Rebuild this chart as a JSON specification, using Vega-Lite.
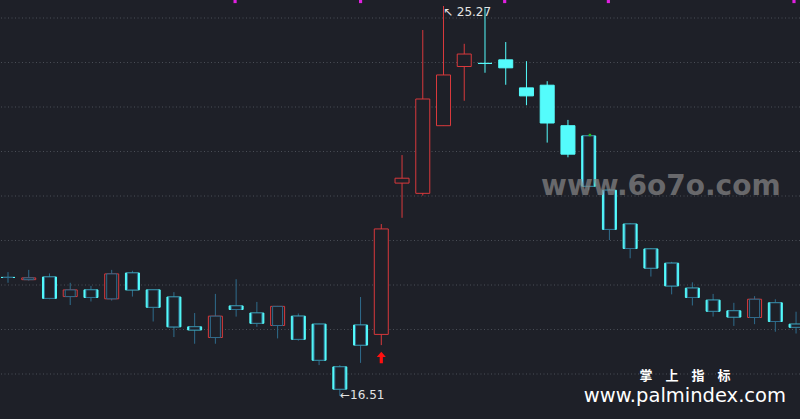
{
  "$schema": "https://vega.github.io/schema/vega-lite/v6.json",
  "width": 800,
  "height": 419,
  "autosize": {"type": "none"},
  "padding": 0,
  "background": "#1e2028",
  "config": {"view": {"stroke": null}},
  "datasets": {
    "k": [
      {"i": 0, "o": 19.17, "h": 19.29, "l": 19.05, "c": 19.17},
      {"i": 1, "o": 19.12, "h": 19.34, "l": 19.10, "c": 19.16},
      {"i": 2, "o": 19.18, "h": 19.26, "l": 18.68, "c": 18.70},
      {"i": 3, "o": 18.74, "h": 19.05, "l": 18.55, "c": 18.89},
      {"i": 4, "o": 18.89, "h": 18.98, "l": 18.63, "c": 18.72},
      {"i": 5, "o": 18.69, "h": 19.34, "l": 18.65, "c": 19.25},
      {"i": 6, "o": 19.27, "h": 19.32, "l": 18.74, "c": 18.89},
      {"i": 7, "o": 18.89, "h": 18.89, "l": 18.18, "c": 18.50},
      {"i": 8, "o": 18.73, "h": 18.84, "l": 17.83, "c": 18.06},
      {"i": 9, "o": 18.06, "h": 18.37, "l": 17.68, "c": 17.99},
      {"i": 10, "o": 17.82, "h": 18.80, "l": 17.68, "c": 18.30},
      {"i": 11, "o": 18.53, "h": 19.13, "l": 18.29, "c": 18.45},
      {"i": 12, "o": 18.37, "h": 18.62, "l": 18.06, "c": 18.14},
      {"i": 13, "o": 18.09, "h": 18.53, "l": 17.80, "c": 18.52},
      {"i": 14, "o": 18.30, "h": 18.36, "l": 17.75, "c": 17.78},
      {"i": 15, "o": 18.12, "h": 18.13, "l": 17.20, "c": 17.31},
      {"i": 16, "o": 17.16, "h": 17.20, "l": 16.51, "c": 16.66},
      {"i": 17, "o": 18.10, "h": 18.73, "l": 17.25, "c": 17.65},
      {"i": 18, "o": 17.89, "h": 20.37, "l": 17.65, "c": 20.26},
      {"i": 19, "o": 21.29, "h": 21.92, "l": 20.51, "c": 21.40},
      {"i": 20, "o": 21.06, "h": 24.73, "l": 21.01, "c": 23.18},
      {"i": 21, "o": 22.58, "h": 25.27, "l": 22.58, "c": 23.72},
      {"i": 22, "o": 23.91, "h": 24.42, "l": 23.14, "c": 24.19},
      {"i": 23, "o": 23.98, "h": 25.22, "l": 23.77, "c": 23.98},
      {"i": 24, "o": 24.06, "h": 24.46, "l": 23.50, "c": 23.88},
      {"i": 25, "o": 23.43, "h": 24.03, "l": 23.04, "c": 23.25},
      {"i": 26, "o": 23.49, "h": 23.58, "l": 22.20, "c": 22.64},
      {"i": 27, "o": 22.58, "h": 22.71, "l": 21.87, "c": 21.94},
      {"i": 28, "o": 22.35, "h": 22.35, "l": 21.13, "c": 21.22},
      {"i": 29, "o": 21.13, "h": 21.16, "l": 20.01, "c": 20.25},
      {"i": 30, "o": 20.37, "h": 20.39, "l": 19.60, "c": 19.82},
      {"i": 31, "o": 19.81, "h": 19.83, "l": 19.19, "c": 19.38},
      {"i": 32, "o": 19.49, "h": 19.52, "l": 18.79, "c": 18.98},
      {"i": 33, "o": 18.93, "h": 19.06, "l": 18.54, "c": 18.72},
      {"i": 34, "o": 18.66, "h": 18.80, "l": 18.29, "c": 18.41},
      {"i": 35, "o": 18.42, "h": 18.60, "l": 18.08, "c": 18.28},
      {"i": 36, "o": 18.27, "h": 18.75, "l": 18.12, "c": 18.68},
      {"i": 37, "o": 18.60, "h": 18.68, "l": 17.95, "c": 18.18},
      {"i": 38, "o": 18.12, "h": 18.40, "l": 17.91, "c": 18.05}
    ],
    "grid": [{"g": 17}, {"g": 18}, {"g": 19}, {"g": 20}, {"g": 21}, {"g": 22}, {"g": 23}, {"g": 24}, {"g": 25}],
    "marks": [{"i": 10.95, "p": 25.37}, {"i": 17.0, "p": 25.37}, {"i": 23.95, "p": 25.37}, {"i": 28.95, "p": 25.37}, {"i": 37.9, "p": 25.37}],
    "green": [{"i": 28.06, "p": 22.37}],
    "arrow": [{"i": 18, "p": 17.37}],
    "lowlab": [{"i": 16.01, "p": 16.53, "t": "←16.51"}],
    "highlab": [{"i": 20.97, "p": 25.14, "t": "↖ 25.27"}],
    "wm": [{"i": 31.48, "p": 21.2, "t": "www.6o7o.com"}],
    "brand1": [{"i": 32.64, "p": 16.96, "t": "掌　上　指　标"}],
    "brand2": [{"i": 32.64, "p": 16.5, "t": "www.palmindex.com"}]
  },
  "layer": [
    {
      "data": {"name": "grid"},
      "mark": {"type": "rule", "color": "#4a4e57", "strokeWidth": 1, "strokeDash": [1, 2.5]},
      "encoding": {
        "y": {"field": "g", "type": "quantitative", "scale": {"domain": [15.989, 25.4045], "nice": false, "zero": false}, "axis": null}
      }
    },
    {
      "data": {"name": "k"},
      "transform": [{"filter": "datum.i >= 18 && datum.i <= 27"}],
      "mark": {"type": "rule", "strokeWidth": 1},
      "encoding": {
        "x": {"field": "i", "type": "quantitative", "scale": {"domain": [-0.386, 38.19], "nice": false, "zero": false}, "axis": null},
        "y": {"field": "h", "type": "quantitative", "scale": {"domain": [15.989, 25.4045], "nice": false, "zero": false}, "axis": null},
        "y2": {"field": "l"},
        "color": {"condition": {"test": "datum.c > datum.o", "value": "#d8393c"}, "value": "#54fcfc"}
      }
    },
    {
      "data": {"name": "k"},
      "transform": [{"filter": "datum.i >= 18 && datum.i <= 27"}],
      "mark": {"type": "rect", "xOffset": -7, "x2Offset": 7, "strokeWidth": 1},
      "encoding": {
        "x": {"field": "i", "type": "quantitative", "scale": {"domain": [-0.386, 38.19], "nice": false, "zero": false}, "axis": null},
        "x2": {"field": "i"},
        "y": {"field": "o", "type": "quantitative", "scale": {"domain": [15.989, 25.4045], "nice": false, "zero": false}, "axis": null},
        "y2": {"field": "c"},
        "fill": {"condition": {"test": "datum.c > datum.o", "value": "#1e2028"}, "value": "#54fcfc"},
        "stroke": {"condition": {"test": "datum.c > datum.o", "value": "#d8393c"}, "value": "#54fcfc"}
      }
    },
    {
      "data": {"name": "k"},
      "transform": [{"filter": "datum.i <= 17 || datum.i >= 28"}],
      "mark": {"type": "rule", "strokeWidth": 1, "color": "#2f6c8c"},
      "encoding": {
        "x": {"field": "i", "type": "quantitative", "scale": {"domain": [-0.386, 38.19], "nice": false, "zero": false}, "axis": null},
        "y": {"field": "h", "type": "quantitative", "scale": {"domain": [15.989, 25.4045], "nice": false, "zero": false}, "axis": null},
        "y2": {"field": "l"}
      }
    },
    {
      "data": {"name": "k"},
      "transform": [{"filter": "datum.i <= 17 || datum.i >= 28"}],
      "mark": {"type": "rect", "xOffset": -7, "x2Offset": 7, "strokeWidth": 1},
      "encoding": {
        "x": {"field": "i", "type": "quantitative", "scale": {"domain": [-0.386, 38.19], "nice": false, "zero": false}, "axis": null},
        "x2": {"field": "i"},
        "y": {"field": "o", "type": "quantitative", "scale": {"domain": [15.989, 25.4045], "nice": false, "zero": false}, "axis": null},
        "y2": {"field": "c"},
        "fill": {"condition": {"test": "datum.c > datum.o", "value": "#1e2028"}, "value": "#54fcfc"},
        "stroke": {"condition": {"test": "datum.c > datum.o", "value": "#d8393c"}, "value": "#54fcfc"}
      }
    },
    {
      "data": {"name": "k"},
      "transform": [{"filter": "datum.i <= 17 || datum.i >= 28"}],
      "mark": {"type": "rect", "xOffset": -5, "x2Offset": 5, "strokeWidth": 1, "fill": "#1e2028", "stroke": "#2f6c8c"},
      "encoding": {
        "x": {"field": "i", "type": "quantitative", "scale": {"domain": [-0.386, 38.19], "nice": false, "zero": false}, "axis": null},
        "x2": {"field": "i"},
        "y": {"field": "o", "type": "quantitative", "scale": {"domain": [15.989, 25.4045], "nice": false, "zero": false}, "axis": null},
        "y2": {"field": "c"}
      }
    },
    {
      "data": {"name": "arrow"},
      "mark": {"type": "point", "filled": true, "color": "#ff1010", "opacity": 1, "size": 130, "shape": "M0,-1L0.8,-0.1L0.28,-0.1L0.28,1L-0.28,1L-0.28,-0.1L-0.8,-0.1Z"},
      "encoding": {
        "x": {"field": "i", "type": "quantitative", "scale": {"domain": [-0.386, 38.19], "nice": false, "zero": false}, "axis": null},
        "y": {"field": "p", "type": "quantitative", "scale": {"domain": [15.989, 25.4045], "nice": false, "zero": false}, "axis": null}
      }
    },
    {
      "data": {"name": "marks"},
      "mark": {"type": "square", "filled": true, "color": "#e020e0", "opacity": 1, "size": 10},
      "encoding": {
        "x": {"field": "i", "type": "quantitative", "scale": {"domain": [-0.386, 38.19], "nice": false, "zero": false}, "axis": null},
        "y": {"field": "p", "type": "quantitative", "scale": {"domain": [15.989, 25.4045], "nice": false, "zero": false}, "axis": null}
      }
    },
    {
      "data": {"name": "green"},
      "mark": {"type": "square", "filled": true, "color": "#20c020", "opacity": 1, "size": 6},
      "encoding": {
        "x": {"field": "i", "type": "quantitative", "scale": {"domain": [-0.386, 38.19], "nice": false, "zero": false}, "axis": null},
        "y": {"field": "p", "type": "quantitative", "scale": {"domain": [15.989, 25.4045], "nice": false, "zero": false}, "axis": null}
      }
    },
    {
      "data": {"name": "lowlab"},
      "mark": {"type": "text", "align": "left", "baseline": "middle", "font": "DejaVu Sans", "fontSize": 12, "color": "#e4e4e4"},
      "encoding": {
        "x": {"field": "i", "type": "quantitative", "scale": {"domain": [-0.386, 38.19], "nice": false, "zero": false}, "axis": null},
        "y": {"field": "p", "type": "quantitative", "scale": {"domain": [15.989, 25.4045], "nice": false, "zero": false}, "axis": null},
        "text": {"field": "t"}
      }
    },
    {
      "data": {"name": "highlab"},
      "mark": {"type": "text", "align": "left", "baseline": "middle", "font": "DejaVu Sans", "fontSize": 12, "color": "#e4e4e4"},
      "encoding": {
        "x": {"field": "i", "type": "quantitative", "scale": {"domain": [-0.386, 38.19], "nice": false, "zero": false}, "axis": null},
        "y": {"field": "p", "type": "quantitative", "scale": {"domain": [15.989, 25.4045], "nice": false, "zero": false}, "axis": null},
        "text": {"field": "t"}
      }
    },
    {
      "data": {"name": "wm"},
      "mark": {"type": "text", "align": "center", "baseline": "middle", "font": "DejaVu Sans", "fontWeight": "bold", "fontSize": 28, "color": "#858585", "opacity": 0.72},
      "encoding": {
        "x": {"field": "i", "type": "quantitative", "scale": {"domain": [-0.386, 38.19], "nice": false, "zero": false}, "axis": null},
        "y": {"field": "p", "type": "quantitative", "scale": {"domain": [15.989, 25.4045], "nice": false, "zero": false}, "axis": null},
        "text": {"field": "t"}
      }
    },
    {
      "data": {"name": "brand1"},
      "mark": {"type": "text", "align": "center", "baseline": "middle", "font": "Noto Sans CJK SC", "fontWeight": "bold", "fontSize": 13, "color": "#ffffff"},
      "encoding": {
        "x": {"field": "i", "type": "quantitative", "scale": {"domain": [-0.386, 38.19], "nice": false, "zero": false}, "axis": null},
        "y": {"field": "p", "type": "quantitative", "scale": {"domain": [15.989, 25.4045], "nice": false, "zero": false}, "axis": null},
        "text": {"field": "t"}
      }
    },
    {
      "data": {"name": "brand2"},
      "mark": {"type": "text", "align": "center", "baseline": "middle", "font": "DejaVu Sans", "fontSize": 19.5, "color": "#ffffff"},
      "encoding": {
        "x": {"field": "i", "type": "quantitative", "scale": {"domain": [-0.386, 38.19], "nice": false, "zero": false}, "axis": null},
        "y": {"field": "p", "type": "quantitative", "scale": {"domain": [15.989, 25.4045], "nice": false, "zero": false}, "axis": null},
        "text": {"field": "t"}
      }
    }
  ]
}
